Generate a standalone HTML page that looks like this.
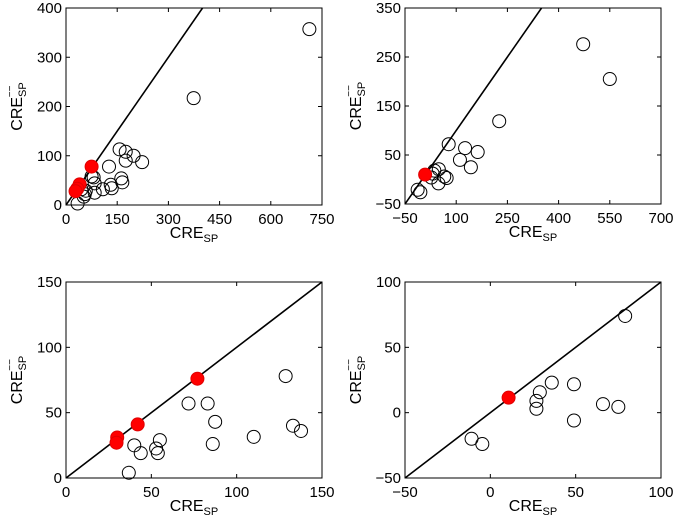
<!DOCTYPE html>
<html><head><meta charset="utf-8"><style>
html,body{margin:0;padding:0;background:#fff;}
svg{display:block;font-family:"Liberation Sans",Arial,sans-serif;}
</style></head><body>
<svg id="chart" width="675" height="522" viewBox="0 0 675 522" xmlns="http://www.w3.org/2000/svg"></svg>
<script>
// Panel A data
const p1X=[713,374,157,175,198,175,223,126,81,84,162,165,134,131,108,84,55,52,58,45,34,75];
const p1Y=[357,217,113,108,100,90,87,78,56,44,54,46,34,41,32,25,22,17,29,32,3,58];
const p1RX=[75,40,33,28];
const p1RY=[78,42,33,28];
const p1XTicks=[0,150,300,450,600,750];
const p1YTicks=[0,100,200,300,400];
// Panel B data
const p2X=[472,550,226,78,126,163,111,143,49,36,31,27,72,65,48,-13,-5];
const p2Y=[276,205,119,72,64,56,40,25,21,18,12,4,3,6,-8,-21,-26];
const p2RX=[9];
const p2RY=[10];
const p2XTicks=[-50,100,250,400,550,700];
const p2YTicks=[-50,50,150,250,350];
// Panel C data
const p3X=[128.7,71.8,83,87.4,86,110,133,137.7,55,52.8,53.8,40,43.8,36.8];
const p3Y=[78,57,57,43,26,31.5,40,36,29,22.6,19,25,19,4];
const p3RX=[77,42,30,29.6];
const p3RY=[76,41,31,27];
const p3XTicks=[0,50,100,150];
const p3YTicks=[0,50,100,150];
// Panel D data
const p4X=[79,36,49,29,27,27,49,66,75,-11,-4.7];
const p4Y=[74,23,21.7,15.6,9,3,-6,6.5,4.4,-20,-24];
const p4RX=[10.7];
const p4RY=[11.5];
const p4XTicks=[-50,0,50,100];
const p4YTicks=[-50,0,50,100];

const NS="http://www.w3.org/2000/svg";
const svg=document.getElementById('chart');
function mk(tag,attrs,parent){const e=document.createElementNS(NS,tag);for(const k in attrs)e.setAttribute(k,attrs[k]);(parent||svg).appendChild(e);return e;}

const panels=[
 {id:'a',L:66,R:322,T:8,B:205,xd:[0,750],yd:[0,400],xs:p1X,ys:p1Y,rx:p1RX,ry:p1RY,xt:p1XTicks,yt:p1YTicks},
 {id:'b',L:405,R:661,T:8,B:204,xd:[-50,700],yd:[-50,350],xs:p2X,ys:p2Y,rx:p2RX,ry:p2RY,xt:p2XTicks,yt:p2YTicks},
 {id:'c',L:66,R:322,T:282,B:478,xd:[0,150],yd:[0,150],xs:p3X,ys:p3Y,rx:p3RX,ry:p3RY,xt:p3XTicks,yt:p3YTicks},
 {id:'d',L:405,R:661,T:282,B:478,xd:[-50,100],yd:[-50,100],xs:p4X,ys:p4Y,rx:p4RX,ry:p4RY,xt:p4XTicks,yt:p4YTicks}
];

panels.forEach(p=>{
 const g=mk('g',{});
 
 
 const sx=v=>p.L+(v-p.xd[0])/(p.xd[1]-p.xd[0])*(p.R-p.L);
 const sy=v=>p.B-(v-p.yd[0])/(p.yd[1]-p.yd[0])*(p.B-p.T);
 mk('defs',{},g).innerHTML='<clipPath id="clip'+p.id+'"><rect x="'+p.L+'" y="'+p.T+'" width="'+(p.R-p.L)+'" height="'+(p.B-p.T)+'"/></clipPath>';
 // identity line
 const lo=Math.max(p.xd[0],p.yd[0]), hi=Math.min(p.xd[1],p.yd[1]);
 const ln=mk('line',{x1:sx(lo),y1:sy(lo),x2:sx(hi),y2:sy(hi),stroke:'#000','stroke-width':1.6,'clip-path':'url(#clip'+p.id+')'},g);
 
 
 // open points
 p.xs.forEach((x,i)=>{
  const c=mk('circle',{cx:sx(x),cy:sy(p.ys[i]),r:6.5,fill:'none',stroke:'#000','stroke-width':1},g);
  
  
 });
 p.rx.forEach((x,i)=>{
  const c=mk('circle',{cx:sx(x),cy:sy(p.ry[i]),r:6.5,fill:'#ff0000',stroke:'#e00000','stroke-width':1},g);
  
  
 });
 // frame
 const fr=mk('rect',{x:p.L,y:p.T,width:p.R-p.L,height:p.B-p.T,fill:'none',stroke:'#000','stroke-width':1},g);
 
 
 p.xt.forEach(v=>{
  const x=sx(v);
  mk('line',{x1:x,y1:p.B,x2:x,y2:p.B-4,stroke:'#000'},g);
  mk('line',{x1:x,y1:p.T,x2:x,y2:p.T+4,stroke:'#000'},g);
  const t=mk('text',{x:x,y:p.B+19,'text-anchor':'middle','font-size':15},g);
  t.textContent=String(v).replace('-','\u2212');
  
  
 });
 p.yt.forEach(v=>{
  const y=sy(v);
  mk('line',{x1:p.L,y1:y,x2:p.L+4,y2:y,stroke:'#000'},g);
  mk('line',{x1:p.R,y1:y,x2:p.R-4,y2:y,stroke:'#000'},g);
  const t=mk('text',{x:p.L-4,y:y+5,'text-anchor':'end','font-size':15},g);
  t.textContent=String(v).replace('-','\u2212');
  
  
 });
 const cx=(p.L+p.R)/2;
 const xl=mk('text',{x:cx,y:p.B+33,'text-anchor':'middle','font-size':16},g);
 xl.innerHTML='CRE<tspan font-size="11" dy="4">SP</tspan>';
 
 
 const cy=(p.T+p.B)/2;
 const yx=p.L-44;
 const yl=mk('text',{x:0,y:0,'text-anchor':'middle','font-size':16,transform:'translate('+yx+','+cy+') rotate(-90)'},g);
 yl.innerHTML='CRE<tspan font-size="11" dy="4">SP</tspan><tspan font-size="10" dx="-15" dy="-13">\u2212\u2212</tspan>';
 
 
});
</script>
</body></html>
